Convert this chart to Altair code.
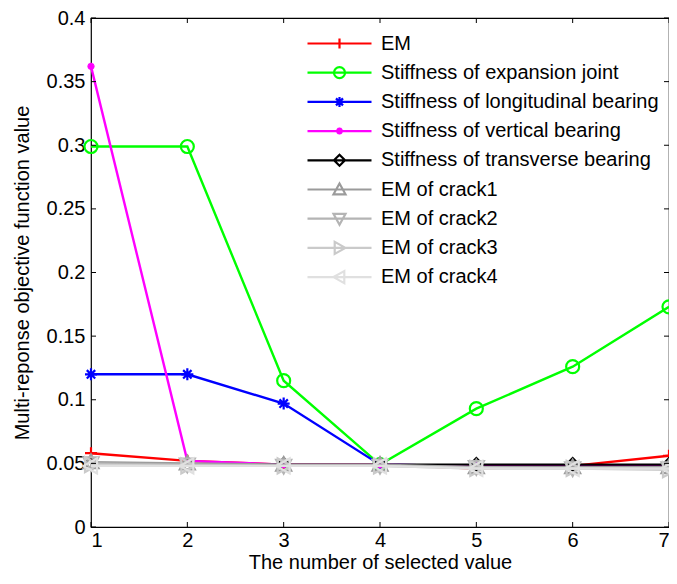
import altair as alt
import pandas as pd

# ---------------- data ----------------
x_values = [1, 2, 3, 4, 5, 6, 7]
series_names = [
    "EM",
    "Stiffness of expansion joint",
    "Stiffness of longitudinal bearing",
    "Stiffness of vertical bearing",
    "Stiffness of transverse bearing",
    "EM of crack1",
    "EM of crack2",
    "EM of crack3",
    "EM of crack4",
]
em = [0.058, 0.052, 0.049, 0.049, 0.046, 0.048, 0.056]
expansion_joint = [0.299, 0.299, 0.115, 0.049, 0.093, 0.126, 0.173]
longitudinal = [0.120, 0.120, 0.097, 0.049, 0.048, 0.048, 0.048]
vertical = [0.362, 0.052, 0.049, 0.049, 0.048, 0.048, 0.048]
transverse = [0.050, 0.049, 0.049, 0.049, 0.049, 0.049, 0.049]
crack1 = [0.051, 0.050, 0.049, 0.049, 0.047, 0.047, 0.047]
crack2 = [0.050, 0.049, 0.048, 0.048, 0.047, 0.046, 0.046]
crack3 = [0.049, 0.048, 0.048, 0.048, 0.046, 0.046, 0.045]
crack4 = [0.048, 0.048, 0.048, 0.048, 0.046, 0.046, 0.046]
all_series = [em, expansion_joint, longitudinal, vertical, transverse,
              crack1, crack2, crack3, crack4]

y_ticks = [0, 0.05, 0.1, 0.15, 0.2, 0.25, 0.3, 0.35, 0.4]
x_ticks = [1, 2, 3, 4, 5, 6, 7]

colors = ["#ff0000", "#00ff00", "#0000ff", "#ff00ff", "#000000",
          "#9b9b9b", "#b4b4b4", "#cacaca", "#e0e0e0"]

# ---------------- marker paths ----------------
def plus(s):
    return f"M0,{-s}V{s}M{-s},0H{s}"

def circle(s):
    return f"M{s},0A{s},{s} 0 1,1 {-s},0A{s},{s} 0 1,1 {s},0Z"

def star(s):
    d = round(0.7 * s, 3)
    return plus(s) + f"M{-d},{-d}L{d},{d}M{-d},{d}L{d},{-d}"

def diamond(s):
    return f"M0,{-s}L{s},0L0,{s}L{-s},0Z"

def tri_up(s):
    return f"M0,{-s}L{s},{0.8*s}L{-s},{0.8*s}Z"

def tri_down(s):
    return f"M0,{s}L{s},{-0.8*s}L{-s},{-0.8*s}Z"

def tri_right(s):
    return f"M{s},0L{-0.8*s},{s}L{-0.8*s},{-s}Z"

def tri_left(s):
    return f"M{-s},0L{0.8*s},{s}L{0.8*s},{-s}Z"

marker_funcs = [plus, circle, star, star, diamond, tri_up, tri_down, tri_right, tri_left]
marker_scales = [1.0, 1.0, 1.0, 0.6, 1.0, 1.0, 1.0, 1.0, 1.0]
plot_sizes = [144, 169, 144, 144, 169, 225, 225, 225, 225]
legend_marker_scale = [0.5, 0.55, 0.5, 0.35, 0.55, 0.6, 0.6, 0.6, 0.6]

legend_paths = ["M-3.2,0H3.2" + f(s) for f, s in zip(marker_funcs, legend_marker_scale)]

rows = []
for name, vals in zip(series_names, all_series):
    for xv, v in zip(x_values, vals):
        rows.append({"x": xv, "value": v, "series": name})
df = pd.DataFrame(rows)

W, H = 578, 509
FONT = "Liberation Sans"

x_scale = alt.Scale(domain=[1, 7], nice=False, zero=False)
y_scale = alt.Scale(domain=[0, 0.4], nice=False)
color_scale = alt.Scale(domain=series_names, range=colors)

x_axis = alt.Axis(values=x_ticks, ticks=False, tickSize=0, domain=False, grid=False,
                  labelPadding=3, format="d",
                  title="The number of selected value", titlePadding=2)
y_axis = alt.Axis(values=y_ticks, ticks=False, tickSize=0, domain=False, grid=False,
                  labelPadding=6,
                  labelExpr="datum.value == 0 ? '0' : format(datum.value, '.2~f')",
                  title="Multi-reponse objective function value", titlePadding=14)

X = lambda f: alt.X(f, scale=x_scale, axis=x_axis)
Y = lambda f: alt.Y(f, scale=y_scale, axis=y_axis)

layers = []
for i, name in enumerate(series_names):
    base = alt.Chart(df).transform_filter(alt.datum.series == name)
    line = base.mark_line(strokeWidth=2.4, clip=False, color=colors[i]).encode(
        x=X("x:Q"), y=Y("value:Q"),
    )
    pts = base.mark_point(shape=marker_funcs[i](marker_scales[i]), filled=False,
                          color=colors[i], strokeWidth=2.2, opacity=1,
                          size=plot_sizes[i], clip=False).encode(
        x=X("x:Q"), y=Y("value:Q"),
    )
    layers += [line, pts]

legend_props = dict(orient="none", legendX=216, legendY=14, title=None,
                    symbolSize=400, symbolStrokeWidth=2.2, symbolOffset=21,
                    labelOffset=30, rowPadding=7.2, padding=0)

legend_layer = alt.Chart(df).transform_filter(alt.datum.x < 0).mark_point(
    filled=False, strokeWidth=2.2, opacity=1).encode(
    x=X("x:Q"), y=Y("value:Q"),
    color=alt.Color("series:N", scale=color_scale, legend=alt.Legend(**legend_props)),
    shape=alt.Shape("series:N", scale=alt.Scale(domain=series_names, range=legend_paths),
                    legend=alt.Legend(**legend_props)),
)

ydf = pd.DataFrame({"v": y_ticks})
xdf = pd.DataFrame({"v": x_ticks})
tick_y_left = alt.Chart(ydf).mark_rule(color="black", strokeWidth=1).encode(
    y=Y("v:Q"), x=alt.value(0), x2=alt.value(5))
tick_y_right = alt.Chart(ydf).mark_rule(color="black", strokeWidth=1).encode(
    y=Y("v:Q"), x=alt.value(W - 5), x2=alt.value(W))
tick_x_bottom = alt.Chart(xdf).mark_rule(color="black", strokeWidth=1).encode(
    x=X("v:Q"), y=alt.value(H - 5), y2=alt.value(H))
tick_x_top = alt.Chart(xdf).mark_rule(color="black", strokeWidth=1).encode(
    x=X("v:Q"), y=alt.value(0), y2=alt.value(5))

chart = alt.layer(
    *layers, legend_layer, tick_y_left, tick_y_right, tick_x_bottom, tick_x_top
).properties(
    width=W, height=H,
    autosize=alt.AutoSizeParams(type="none"),
    padding={"left": 83, "top": 10, "right": 0, "bottom": 49},
    background="white",
).configure_view(
    stroke="black", strokeWidth=1.2
).configure_axis(
    labelFont=FONT, labelFontSize=20, labelColor="black",
    titleFont=FONT, titleFontSize=20, titleFontWeight="normal", titleColor="black",
).configure_legend(
    labelFont=FONT, labelFontSize=20, labelColor="black",
    fillColor="white", strokeColor="white", labelLimit=400,
)

chart.save("out.html", embed_options={"renderer": "svg", "actions": False})
